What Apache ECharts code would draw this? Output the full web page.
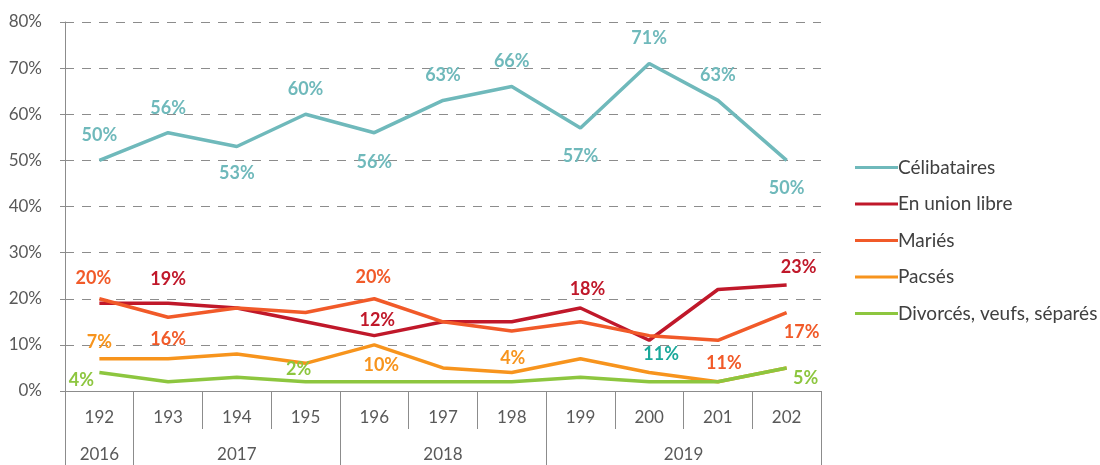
<!DOCTYPE html>
<html>
<head>
<meta charset="utf-8">
<script src="https://cdn.jsdelivr.net/npm/echarts@6/dist/echarts.min.js"></script>
<style>html,body{margin:0;padding:0;background:#fff}#c{width:1100px;height:465px}</style>
</head>
<body>
<div id="c"></div>
<script>
const categories = ['192','193','194','195','196','197','198','199','200','201','202'];
const years = ['2016','2017','2018','2019'];
const yearStarts = [0, 1, 4, 7, 11];
const yTicks = [0,10,20,30,40,50,60,70,80];

const seriesNames = ['Célibataires','En union libre','Mariés','Pacsés','Divorcés, veufs, séparés'];
const celibataires = [50,56,53,60,56,63,66,57,71,63,50];
const unionLibre   = [19,19,18,15,12,15,15,18,11,22,23];
const maries       = [20,16,18,17,20,15,13,15,12,11,17];
const pacses       = [7,7,8,6,10,5,4,7,4,2,5];
const divorces     = [4,2,3,2,2,2,2,3,2,2,5];

const colors = ['#6fb9bb','#c0182a','#f15a29','#f7941d','#8dc63f'];

// label placements: index -> [dx, dy, optional colour]
const labelPlaces = [
  {0:[0,-25],1:[0,-25],2:[0,27],3:[0,-25],4:[0,29],5:[0,-25],6:[0,-25],7:[0,28],8:[0,-25],9:[0,-25],10:[0,28]},
  {1:[0,-24],4:[3,-15],7:[7,-19],8:[12,14,'#1aa89a'],10:[12,-18]},
  {0:[-6,-21],1:[0,22],4:[-1,-22],9:[6,23],10:[15,20]},
  {0:[0,-17],4:[7,20],6:[1,-14]},
  {0:[-18,8],3:[-7,-13],10:[19,10]}
];

const allValues = [celibataires, unionLibre, maries, pacses, divorces];
const FONT = 'Lato, "Noto Sans", sans-serif';

const series = allValues.map((vals, si) => ({
  name: seriesNames[si],
  type: 'line',
  symbol: 'circle',
  symbolSize: 0,
  showSymbol: true,
  z: 2 + si,
  lineStyle: { width: 3.5, color: colors[si] },
  itemStyle: { color: colors[si] },
  emphasis: { disabled: true },
  data: vals.map((v, i) => {
    const p = labelPlaces[si][i];
    if (!p) return { value: v, label: { show: false } };
    return {
      value: v,
      label: {
        show: true, position: 'inside', offset: [p[0], p[1]],
        formatter: '{c}%', color: p[2] || colors[si],
        fontFamily: FONT, fontWeight: 'bold', fontSize: 18
      }
    };
  })
}));

const chart = echarts.init(document.getElementById('c'), null, { renderer: 'canvas' });
chart.setOption({
  animation: false,
  backgroundColor: '#fff',
  grid: { left: 65, right: 279, top: 22, bottom: 74 },
  legend: {
    orient: 'vertical', left: 850, top: 153,
    icon: 'rect', itemWidth: 43, itemHeight: 3, itemGap: 17.5,
    textStyle: { fontFamily: FONT, fontSize: 19, color: '#404040', padding: [0,0,0,-5] },
    data: seriesNames
  },
  xAxis: [
    {
      type: 'category', data: categories, boundaryGap: true, position: 'bottom',
      axisLine: { lineStyle: { color: '#8c8c8c', width: 1 } },
      axisTick: { show: true, interval: 0, length: 38, lineStyle: { color: '#8c8c8c' } },
      axisLabel: { interval: 0, margin: 18, fontFamily: FONT, fontSize: 17, color: '#595959' }
    },
    {
      type: 'value', min: 0, max: categories.length, position: 'bottom', offset: 38,
      axisLine: { show: false },
      splitLine: { show: false },
      axisTick: { show: true, length: 36, customValues: yearStarts, lineStyle: { color: '#8c8c8c' } },
      axisLabel: {
        margin: 17, fontFamily: FONT, fontSize: 17, color: '#595959',
        customValues: years.map((y, i) => (yearStarts[i] + yearStarts[i+1]) / 2),
        formatter: (v) => {
          const i = years.findIndex((y, k) => (yearStarts[k] + yearStarts[k+1]) / 2 === v);
          return i >= 0 ? years[i] : '';
        }
      }
    }
  ],
  yAxis: {
    type: 'value', min: yTicks[0], max: yTicks[yTicks.length-1], interval: 10,
    axisLine: { show: true, lineStyle: { color: '#8c8c8c' } },
    axisTick: { show: true, length: 5, lineStyle: { color: '#8c8c8c' } },
    axisLabel: { formatter: '{value}%', margin: 23, fontFamily: FONT, fontSize: 17, color: '#595959' },
    splitLine: { show: true, lineStyle: { color: '#8c8c8c', type: [9, 8], width: 1 } }
  },
  series: series
});
</script>
</body>
</html>
